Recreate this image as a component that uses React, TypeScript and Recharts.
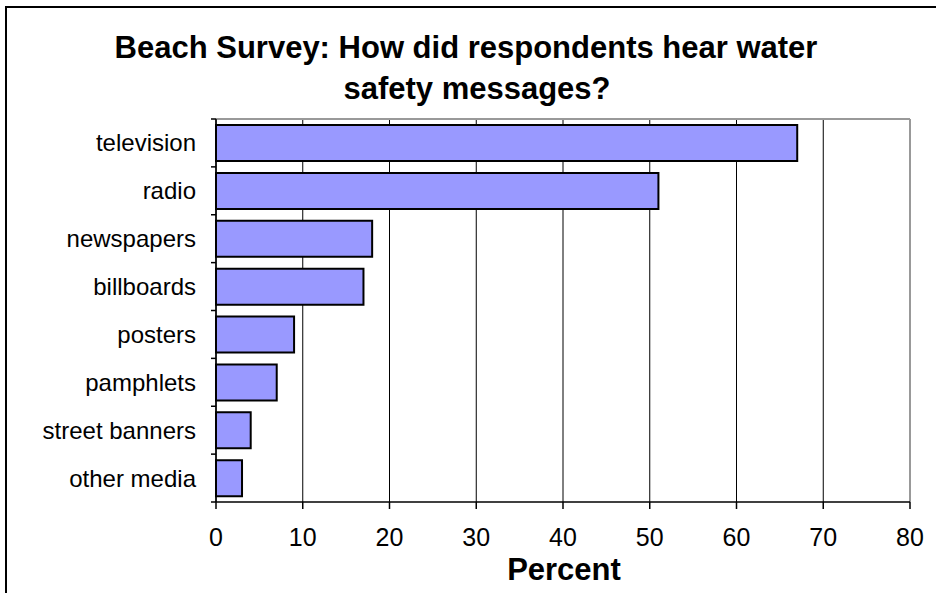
import { BarChart, Bar, XAxis, YAxis, CartesianGrid } from "recharts";

const media = [
  "television",
  "radio",
  "newspapers",
  "billboards",
  "posters",
  "pamphlets",
  "street banners",
  "other media",
];
const percent = [67, 51, 18, 17, 9, 7, 4, 3];
const xTicks = [0, 10, 20, 30, 40, 50, 60, 70, 80];
const titleLines = ["Beach Survey: How did respondents hear water", "safety messages?"];
const xLabel = "Percent";

const rows = media.map((m, i) => ({ media: m, percent: percent[i] }));

const FONT = '"Liberation Sans", Arial, sans-serif';
const W = 936;
const H = 593;
const MARGIN_TOP = 119;
const X_AXIS_H = 91;
const Y_AXIS_W = 216;
const Y_TICK_SIZE = 5;
const Y_TICK_MARGIN = 15;
const HALF_BAND = (H - MARGIN_TOP - X_AXIS_H) / media.length / 2;

// category label + excel-style tick marks on the band edges
function CategoryTick(props: any) {
  const { x, y, payload, index } = props;
  const axisX = x + Y_TICK_SIZE + Y_TICK_MARGIN;
  return (
    <g>
      <text x={x} y={y} dy="0.355em" textAnchor="end" fontSize={24} fill="#000">
        {payload.value}
      </text>
      <line x1={axisX - Y_TICK_SIZE} x2={axisX} y1={y - HALF_BAND} y2={y - HALF_BAND} stroke="#000" strokeWidth={1.5} />
      {index === media.length - 1 && (
        <line x1={axisX - Y_TICK_SIZE} x2={axisX} y1={y + HALF_BAND} y2={y + HALF_BAND} stroke="#000" strokeWidth={1.5} />
      )}
    </g>
  );
}

export default function App() {
  return (
    <div
      style={{
        position: "fixed",
        left: 0,
        top: 0,
        width: W,
        height: H,
        overflow: "hidden",
        background: "#fff",
        fontFamily: FONT,
      }}
    >
      <BarChart
        width={W}
        height={H}
        data={rows}
        layout="vertical"
        margin={{ top: MARGIN_TOP, right: 26, bottom: 0, left: 0 }}
      >
        <CartesianGrid horizontal={false} stroke="#000" strokeWidth={1} />
        {/* grey plot frame, top and right */}
        <CartesianGrid
          stroke="#999"
          strokeWidth={2}
          horizontalCoordinatesGenerator={({ offset }: any) => [offset.top]}
          verticalCoordinatesGenerator={({ offset }: any) => [offset.left + offset.width]}
        />
        <XAxis
          type="number"
          domain={[0, 80]}
          ticks={xTicks}
          interval={0}
          height={X_AXIS_H}
          tickSize={7}
          tickMargin={19}
          tick={{ fontSize: 25, fill: "#000" }}
          axisLine={{ stroke: "#000", strokeWidth: 1.5 }}
          tickLine={{ stroke: "#000", strokeWidth: 1.5 }}
        />
        <YAxis
          type="category"
          dataKey="media"
          width={Y_AXIS_W}
          interval={0}
          tickSize={Y_TICK_SIZE}
          tickMargin={Y_TICK_MARGIN}
          tickLine={false}
          tick={<CategoryTick />}
          axisLine={{ stroke: "#000", strokeWidth: 1.5 }}
        />
        <Bar
          dataKey="percent"
          fill="#9999FF"
          stroke="#000"
          strokeWidth={2}
          barSize={36}
          isAnimationActive={false}
        />
      </BarChart>
      <svg
        width={W}
        height={H}
        style={{ position: "absolute", left: 0, top: 0, pointerEvents: "none" }}
      >
        <rect x={6} y={7} width={1000} height={1000} fill="none" stroke="#000" strokeWidth={2} />
        <text x={466} y={58} textAnchor="middle" fontSize={31} fontWeight="bold" fill="#000">
          {titleLines[0]}
        </text>
        <text x={477} y={99} textAnchor="middle" fontSize={31} fontWeight="bold" fill="#000">
          {titleLines[1]}
        </text>
        <text x={564} y={580} textAnchor="middle" fontSize={31} fontWeight="bold" fill="#000">
          {xLabel}
        </text>
      </svg>
    </div>
  );
}
